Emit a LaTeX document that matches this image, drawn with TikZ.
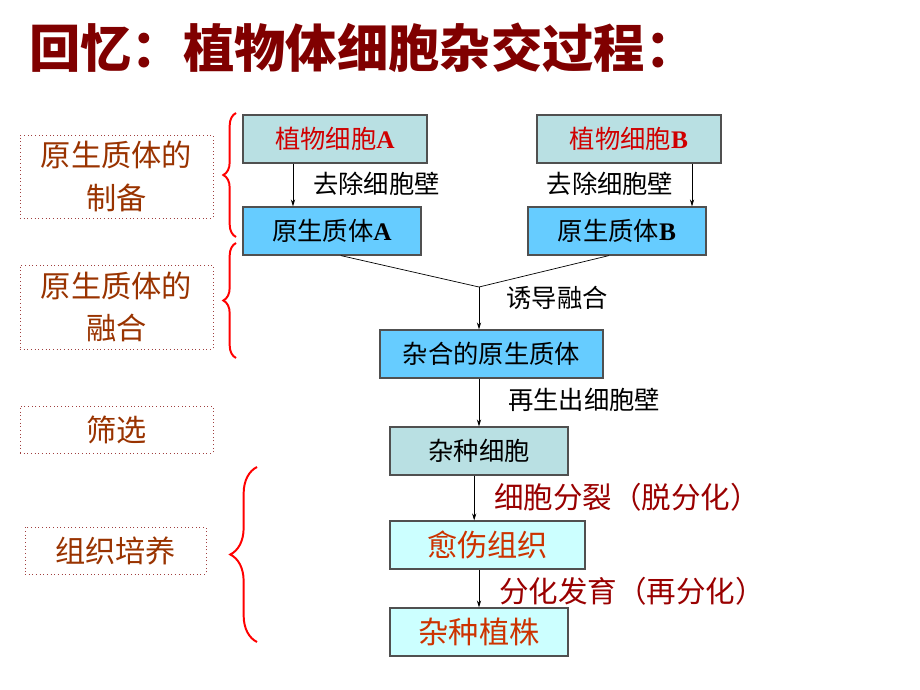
\documentclass[tikz,border=0pt]{standalone}
\usepackage{fontspec}
\setmainfont{Noto Sans CJK SC}
\newfontfamily\latinserif{Liberation Serif}
\usetikzlibrary{arrows.meta,decorations.pathreplacing}
\definecolor{cellfill}{HTML}{B9E0E3}
\definecolor{protofill}{HTML}{66CCFF}
\definecolor{tissuefill}{HTML}{CCFFFF}
\definecolor{boxline}{HTML}{505050}
\definecolor{cellred}{HTML}{D00000}
\definecolor{stepbrown}{HTML}{993300}
\definecolor{stepdot}{HTML}{A04040}
\definecolor{notered}{HTML}{990000}
\definecolor{tissueorange}{HTML}{CC3300}
\definecolor{titlered}{HTML}{800000}
\tikzset{
  stagebox/.style={draw=boxline, line width=0.8pt, inner sep=0pt, minimum height=1.2cm},
  stepbox/.style={draw=stepdot, dotted, line width=0.6pt, inner sep=0pt, text=stepbrown,
    align=center, font=\fontsize{21.5}{30}\selectfont},
  note/.style={inner sep=0pt, font=\fontsize{18}{20}\selectfont},
  bignote/.style={inner sep=0pt, text=notered, font=\fontsize{21}{22}\selectfont},
  flow/.style={-{Stealth[length=5pt,width=3pt]}, line width=0.5pt},
  bracket/.style={draw=red, line width=1.4pt, decorate}
}
\begin{document}
\begin{tikzpicture}[x=0.025cm, y=-0.025cm]
\useasboundingbox (0,0) rectangle (920,690);

% title
\node[anchor=west, inner sep=0pt, text=titlered, font=\fontsize{36.5}{40}\selectfont\bfseries] (title) at (29,48) {回忆：植物体细胞杂交过程：};

% the two parent cells and their protoplasts
\node[stagebox, fill=cellfill, minimum width=4.6cm, text=cellred, font=\fontsize{18}{20}\selectfont] (plantA) at (335,139) {植物细胞\textbf{\latinserif A}};
\node[stagebox, fill=cellfill, minimum width=4.6cm, text=cellred, font=\fontsize{18}{20}\selectfont] (plantB) at (629,139) {植物细胞\textbf{\latinserif B}};
\node[stagebox, fill=protofill, minimum width=4.45cm, font=\fontsize{18}{20}\selectfont] (protoA) at (332,231) {原生质体\textbf{\latinserif A}};
\node[stagebox, fill=protofill, minimum width=4.45cm, font=\fontsize{18}{20}\selectfont] (protoB) at (617,231) {原生质体\textbf{\latinserif B}};

% fusion and regeneration
\node[stagebox, fill=protofill, minimum width=5.575cm, font=\fontsize{18}{20}\selectfont] (hybridP) at (491.5,354) {杂合的原生质体};
\node[stagebox, fill=cellfill, minimum width=4.45cm, font=\fontsize{18}{20}\selectfont] (hybridC) at (479,451) {杂种细胞};
\node[stagebox, fill=tissuefill, minimum width=4.875cm, text=tissueorange, font=\fontsize{21.5}{24}\selectfont] (callus) at (487.5,545) {愈伤组织};
\node[stagebox, fill=tissuefill, minimum width=4.45cm, text=tissueorange, font=\fontsize{21.5}{24}\selectfont] (plant) at (479,632) {杂种植株};

% arrows
\draw[flow] ([xshift=-1.05cm]plantA.south) -- ([xshift=-1.05cm]plantA.south |- protoA.north);
\draw[flow] ([xshift=1.575cm]plantB.south) -- ([xshift=1.575cm]plantB.south |- protoB.north);
\coordinate (merge) at (479,287);
\draw[line width=0.5pt] ([xshift=0.22cm]protoA.south) -- (merge);
\draw[line width=0.5pt] ([xshift=-0.2cm]protoB.south) -- (merge);
\draw[flow] (merge) -- (merge |- hybridP.north);
\draw[flow] (hybridC.north |- hybridP.south) -- (hybridC.north);
\draw[flow] ([xshift=-0.12cm]hybridC.south) -- ([xshift=-0.12cm]hybridC.south |- callus.north);
\draw[flow] (plant.north |- callus.south) -- (plant.north);

% step labels
\node[note] (wallA) at (376.5,184) {去除细胞壁};
\node[note] (wallB) at (610,184) {去除细胞壁};
\node[note] (induce) at (557,298) {诱导融合};
\node[note] (regen) at (584,400) {再生出细胞壁};
\node[bignote] (dediff) at (627,497) {细胞分裂（脱分化）};
\node[bignote] (rediff) at (632,591) {分化发育（再分化）};

% stages on the left
\node[stepbox, minimum width=4.825cm, minimum height=2.075cm] (prep) at (116.5,176.5) {原生质体的\\制备};
\node[stepbox, minimum width=4.825cm, minimum height=2.1cm] (fuse) at (116.5,307) {原生质体的\\融合};
\node[stepbox, minimum width=4.825cm, minimum height=1.175cm] (screen) at (116.5,429.5) {筛选};
\node[stepbox, minimum width=4.525cm, minimum height=1.175cm] (culture) at (115.5,550.5) {组织培养};

% braces
\draw[bracket, decoration={brace, amplitude=9pt}] (236,237) -- (236,113);
\draw[bracket, decoration={brace, amplitude=9pt}] (236,358) -- (236,243);
\draw[bracket, decoration={brace, amplitude=19pt}] (257,642) -- (257,467);
\end{tikzpicture}
\end{document}
